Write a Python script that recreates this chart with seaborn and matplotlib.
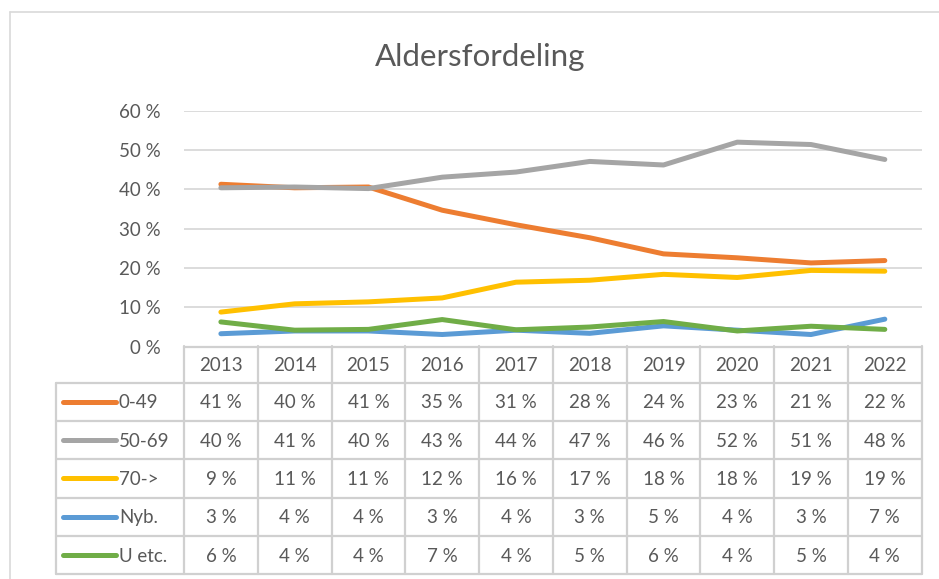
import pandas as pd
import matplotlib.pyplot as plt
import seaborn as sns
from matplotlib.lines import Line2D

years = ["2013", "2014", "2015", "2016", "2017", "2018", "2019", "2020", "2021", "2022"]
series_names = ["0-49", "50-69", "70->", "Nyb.", "U etc."]
age_0_49 = [41.3, 40.4, 40.6, 34.7, 31.0, 27.7, 23.6, 22.6, 21.3, 21.9]
age_50_69 = [40.4, 40.6, 40.2, 43.1, 44.4, 47.1, 46.2, 52.0, 51.4, 47.6]
age_70_up = [8.8, 10.9, 11.4, 12.4, 16.4, 16.9, 18.4, 17.6, 19.4, 19.2]
nyb = [3.3, 4.0, 4.0, 3.1, 4.2, 3.4, 5.3, 4.2, 3.1, 7.0]
u_etc = [6.3, 4.2, 4.4, 6.9, 4.3, 5.0, 6.4, 4.0, 5.2, 4.4]
colors = ["#ED7D31", "#A5A5A5", "#FFC000", "#5B9BD5", "#70AD47"]

values = [age_0_49, age_50_69, age_70_up, nyb, u_etc]
rows = []
for name, vals in zip(series_names, values):
    for i, v in enumerate(vals):
        rows.append({"pos": i, "year": years[i], "series": name, "value": v / 100})
df = pd.DataFrame(rows)

sns.set_theme(style="white")
plt.rcParams["font.family"] = ["Lato", "DejaVu Sans"]
txt = "#595959"
grid = "#D9D9D9"

W, H = 939, 579
fig = plt.figure(figsize=(W / 100, H / 100), dpi=100)


def box(l, t, r, b):
    return [l / W, 1 - b / H, (r - l) / W, (b - t) / H]


# chart frame (left and top edge visible)
fig.add_artist(Line2D([10 / W, 10 / W], [0, 1 - 12 / H], color=grid, lw=1.2))
fig.add_artist(Line2D([10 / W, 1], [1 - 12 / H, 1 - 12 / H], color=grid, lw=1.2))

fig.text(480 / W, 1 - 57 / H, "Aldersfordeling", ha="center", va="center",
         fontsize=22.5, color=txt)

# line plot
left, right = 184, 921.7
ax = fig.add_axes(box(left, 110.7, right, 346.7))
sns.lineplot(data=df, x="pos", y="value", hue="series", hue_order=series_names,
             palette=colors, linewidth=3.6, legend=False, sort=False, ax=ax,
             solid_capstyle="round")
ax.set_xlim(-0.5, 9.5)
ax.set_ylim(0, 0.6)
ax.set_yticks([0, 0.1, 0.2, 0.3, 0.4, 0.5, 0.6])
ax.set_yticklabels([f"{int(round(t * 100))} %" for t in ax.get_yticks()])
ax.tick_params(axis="y", length=0, pad=17, labelsize=13.5, labelcolor=txt)
ax.set_xticks([])
ax.set_xlabel("")
ax.set_ylabel("")
for t in [0.1, 0.2, 0.3, 0.4, 0.5, 0.6]:
    ax.axhline(t, color=grid, lw=1.3, zorder=0)
for s in ax.spines.values():
    s.set_visible(False)
ax.patch.set_alpha(0)

# data table below
tl, tt, tb = 55.7, 346, 574.3
unit = (right - left) / 10
x0 = -0.5 - (left - tl) / unit
tab = fig.add_axes(box(tl, tt, right, tb))
tab.set_xlim(x0, 9.5)
tab.set_ylim(tb - tt, 0)
tab.axis("off")
bounds = [0, 36.7, 75, 113.3, 151.6, 189.9, 228.2]
lc = "#D0D0D0"
tab.plot([-0.5, 9.5], [0.8, 0.8], color=lc, lw=1.6, clip_on=False)
for yb in bounds[1:]:
    tab.plot([x0, 9.5], [yb, yb], color=lc, lw=1.6, clip_on=False)
tab.plot([x0, x0], [bounds[1], bounds[-1]], color=lc, lw=1.6, clip_on=False)
for c in range(11):
    tab.plot([c - 0.5, c - 0.5], [0, bounds[-1]], color=lc, lw=1.6, clip_on=False)

for i, y in enumerate(years):
    tab.text(i, (bounds[0] + bounds[1]) / 2 + 1, y, ha="center", va="center",
             fontsize=13.5, color=txt)

px = lambda p: x0 + (p - tl) / unit
for r, (name, vals, col) in enumerate(zip(series_names, values, colors)):
    yc = (bounds[r + 1] + bounds[r + 2]) / 2 + 1
    tab.plot([px(63), px(116)], [yc - 1, yc - 1], color=col, lw=3.6,
             solid_capstyle="round")
    tab.text(px(119), yc, name, ha="left", va="center", fontsize=13.5, color=txt)
    for i, v in enumerate(vals):
        tab.text(i, yc, f"{int(v + 0.5)} %", ha="center", va="center",
                 fontsize=13.5, color=txt)

fig.savefig("out.png", dpi=100, facecolor="white")
